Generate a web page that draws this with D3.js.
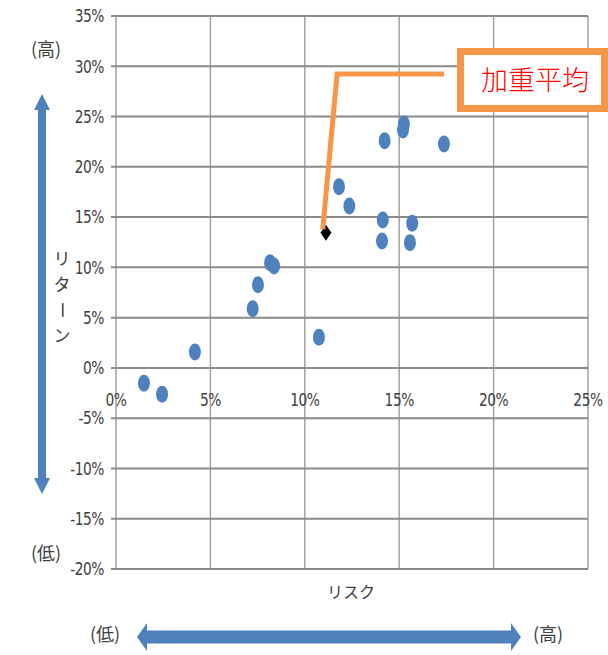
<!DOCTYPE html>
<html><head><meta charset="utf-8">
<script src="https://cdn.jsdelivr.net/npm/d3@7"></script>
<style>
html,body{margin:0;padding:0;background:#fff;}
svg{display:block;}
</style></head>
<body>
<script>
// ---- data ----
const risk   = [1.48, 2.44, 4.18, 7.24, 7.52, 8.16, 8.37, 10.75, 11.81, 12.36, 14.13, 15.69, 14.09, 15.57, 14.23, 15.25, 15.20, 17.37];
const ret    = [-1.52, -2.63, 1.59, 5.89, 8.28, 10.47, 10.14, 3.05, 18.02, 16.10, 14.71, 14.38, 12.62, 12.46, 22.60, 24.25, 23.66, 22.27];
const avgPoint = [11.12, 13.45];
const xTicks = [0, 5, 10, 15, 20, 25];
const yTicks = [-20, -15, -10, -5, 0, 5, 10, 15, 20, 25, 30, 35];
const leaderX = [10.95, 11.71, 17.37];
const leaderY = [13.8, 29.22, 29.22];
const calloutText = "加重平均";
const xTitle = "リスク";
const yTitle = "リターン";
const hiLabel = "(高)";
const loLabel = "(低)";

const W = 608, H = 655;
const svg = d3.select("body").append("svg").attr("width", W).attr("height", H);

const x = d3.scaleLinear().domain([0, 25]).range([116, 588]);
const y = d3.scaleLinear().domain([-20, 35]).range([569, 16]);

const tickFont = "'Liberation Sans Narrow','DejaVu Sans Condensed',sans-serif";
const jpFont = "'Noto Sans CJK JP','Noto Sans CJK SC',sans-serif";
const txtCol = "#404040";

// vertical gridlines
svg.append("g").selectAll("line").data(xTicks).join("line")
  .attr("x1", d => x(d)).attr("x2", d => x(d))
  .attr("y1", y(35)).attr("y2", y(-20))
  .attr("stroke", "#a6a6a6").attr("stroke-width", 1.6);

// horizontal gridlines (extend left as ticks)
svg.append("g").selectAll("line").data(yTicks).join("line")
  .attr("x1", x(0) - 5).attr("x2", x(25))
  .attr("y1", d => y(d)).attr("y2", d => y(d))
  .attr("stroke", "#8a8a8a").attr("stroke-width", 2);

// y tick labels
svg.append("g").selectAll("text").data(yTicks).join("text")
  .attr("transform", d => `translate(104,${y(d)}) scale(0.85,1)`)
  .attr("dy", "0.35em").attr("text-anchor", "end")
  .attr("font-family", tickFont).attr("font-size", 18)
  .attr("letter-spacing", -0.5)
  .attr("fill", txtCol).text(d => d + "%");

// x tick labels (below 0 line)
svg.append("g").selectAll("text").data(xTicks).join("text")
  .attr("transform", d => `translate(${x(d)},${y(0) + 38}) scale(0.85,1)`)
  .attr("text-anchor", "middle")
  .attr("font-family", tickFont).attr("font-size", 18)
  .attr("letter-spacing", -0.5)
  .attr("fill", txtCol).text(d => d + "%");

// data points
const pts = risk.map((r, i) => ({r, v: ret[i]}));
svg.append("g").selectAll("ellipse").data(pts).join("ellipse")
  .attr("cx", d => x(d.r)).attr("cy", d => y(d.v))
  .attr("rx", 6).attr("ry", 8.5)
  .attr("fill", "#4f81bd");

// weighted average diamond
svg.append("path")
  .attr("d", "M0,-8 L5.5,0 L0,8 L-5.5,0 Z")
  .attr("transform", `translate(${x(avgPoint[0])},${y(avgPoint[1])})`)
  .attr("fill", "#000");

// leader line
const line = d3.line().x(d => x(d[0])).y(d => y(d[1]));
svg.append("path")
  .attr("d", line(leaderX.map((v, i) => [v, leaderY[i]])))
  .attr("fill", "none").attr("stroke", "#f79646").attr("stroke-width", 5)
  .attr("stroke-linejoin", "miter");

// callout box
svg.append("rect")
  .attr("x", 460.5).attr("y", 51.5).attr("width", 144).attr("height", 57)
  .attr("fill", "#fff").attr("stroke", "#f79646").attr("stroke-width", 7);
svg.append("text")
  .attr("x", 535).attr("y", 80).attr("dy", "0.36em").attr("text-anchor", "middle")
  .attr("font-family", jpFont).attr("font-weight", 300).attr("font-size", 27)
  .attr("fill", "#ff0000").text(calloutText);

// axis titles
svg.append("text")
  .attr("x", 351).attr("y", 592).attr("dy", "0.35em").attr("text-anchor", "middle")
  .attr("font-family", jpFont).attr("font-size", 16)
  .attr("fill", txtCol).text(xTitle);

// vertical y title, one character per row; the long-vowel mark is turned upright
const yt = svg.append("text")
  .attr("font-family", jpFont).attr("font-size", 17)
  .attr("fill", txtCol);
const chars = Array.from(yTitle);
const gY = svg.append("g").attr("font-family", jpFont).attr("font-size", 17).attr("fill", txtCol);
chars.forEach((c, i) => {
  const cy = 259 + i * 25.5;
  gY.append("text")
    .attr("text-anchor", "middle").attr("dy", "0.36em")
    .attr("transform", c === "ー" ? `translate(62,${cy}) rotate(90)` : `translate(62,${cy})`)
    .text(c);
});
yt.remove();

// high/low labels
const lab = (px, py, t) => svg.append("text")
  .attr("x", px).attr("y", py).attr("dy", "0.36em").attr("text-anchor", "middle")
  .attr("font-family", jpFont).attr("font-size", 18)
  .attr("fill", txtCol).text(t);
lab(46, 50, hiLabel);
lab(46, 554, loLabel);
lab(105, 635, loLabel);
lab(548, 635, hiLabel);

// vertical double arrow
const blue = "#4f81bd";
svg.append("path")
  .attr("d", "M42,94 L50,110 L46,110 L46,478 L50,478 L42,494 L34,478 L38,478 L38,110 L34,110 Z")
  .attr("fill", blue);
// horizontal double arrow
svg.append("path")
  .attr("d", "M137,637 L147,623 L147,630.5 L511,630.5 L511,623 L521,637 L511,651 L511,643.5 L147,643.5 L147,651 Z")
  .attr("fill", blue);
</script>
</body></html>
